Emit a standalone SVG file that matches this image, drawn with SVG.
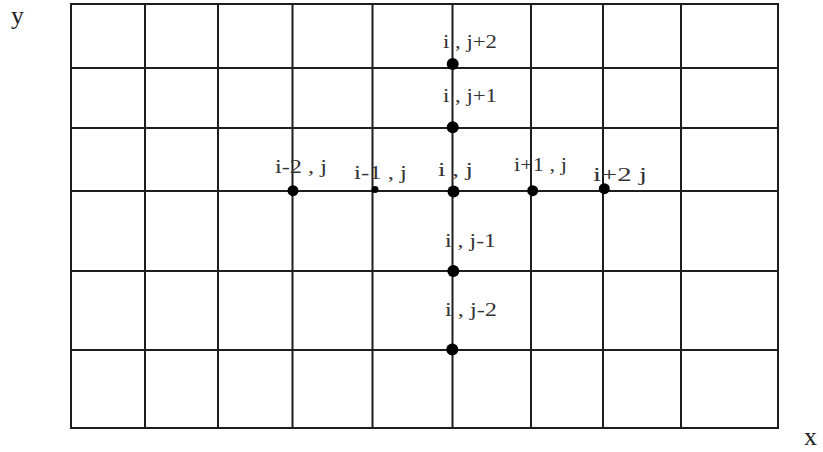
<svg xmlns="http://www.w3.org/2000/svg" width="823" height="452" viewBox="0 0 823 452">
<style>
.grid line{stroke:#1e1e1e;stroke-width:2}
.frame{fill:none;stroke:#1e1e1e;stroke-width:2}
.pt{fill:#000}
.lbl{font-family:"Liberation Serif","Times New Roman",serif;font-size:18px;fill:#333}
.axis{font-family:"Liberation Serif","Times New Roman",serif;font-size:26px;fill:#222}
</style>
<rect width="823" height="452" fill="#fff"/>
<g id="grid" class="grid">
<rect class="frame" x="71" y="4" width="707" height="424"/>
<line x1="145" y1="4" x2="145" y2="428"/>
<line x1="218" y1="4" x2="218" y2="428"/>
<line x1="292.5" y1="4" x2="292.5" y2="428"/>
<line x1="372.5" y1="4" x2="372.5" y2="428"/>
<line x1="452.5" y1="4" x2="452.5" y2="428"/>
<line x1="531" y1="4" x2="531" y2="428"/>
<line x1="603" y1="4" x2="603" y2="428"/>
<line x1="681" y1="4" x2="681" y2="428"/>
<line x1="71" y1="68" x2="778" y2="68"/>
<line x1="71" y1="128" x2="778" y2="128"/>
<line x1="71" y1="191" x2="778" y2="191"/>
<line x1="71" y1="271" x2="778" y2="271"/>
<line x1="71" y1="350" x2="778" y2="350"/>
</g>
<g id="axes">
<text class="axis" x="11" y="24">y</text>
<text class="axis" x="804" y="445">x</text>
</g>
<g id="connectors"></g>
<g id="p-i-jp2"><circle class="pt" cx="452.7" cy="64" r="6"/><text class="lbl" x="443" y="48" textLength="54" lengthAdjust="spacingAndGlyphs">i , j+2</text></g>
<g id="p-i-jp1"><circle class="pt" cx="452.7" cy="127.3" r="6"/><text class="lbl" x="443" y="102" textLength="54" lengthAdjust="spacingAndGlyphs">i , j+1</text></g>
<g id="p-im2-j"><circle class="pt" cx="293" cy="190.7" r="5.5"/><text class="lbl" x="275" y="173" textLength="52" lengthAdjust="spacingAndGlyphs">i-2 , j</text></g>
<g id="p-im1-j"><circle class="pt" cx="375" cy="189.5" r="3.5"/><text class="lbl" x="354" y="179" textLength="53" lengthAdjust="spacingAndGlyphs">i-1 , j</text></g>
<g id="p-i-j"><circle class="pt" cx="453.5" cy="191.5" r="6"/><text class="lbl" x="438" y="176" textLength="35" lengthAdjust="spacingAndGlyphs">i , j</text></g>
<g id="p-ip1-j"><circle class="pt" cx="532.7" cy="190.7" r="5.5"/><text class="lbl" x="514" y="171" textLength="53" lengthAdjust="spacingAndGlyphs">i+1 , j</text></g>
<g id="p-ip2-j"><circle class="pt" cx="604.3" cy="188.7" r="5.5"/><text class="lbl" x="593" y="181" textLength="54" lengthAdjust="spacingAndGlyphs">i+2  j</text></g>
<g id="p-i-jm1"><circle class="pt" cx="453.3" cy="271" r="6"/><text class="lbl" x="445" y="247" textLength="51" lengthAdjust="spacingAndGlyphs">i , j-1</text></g>
<g id="p-i-jm2"><circle class="pt" cx="452.3" cy="349.5" r="6"/><text class="lbl" x="445" y="316" textLength="52" lengthAdjust="spacingAndGlyphs">i , j-2</text></g>
</svg>
